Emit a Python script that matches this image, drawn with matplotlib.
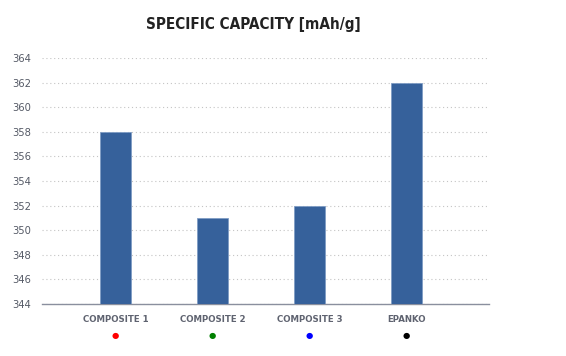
import matplotlib
matplotlib.use('Agg')
import matplotlib.pyplot as plt

# data
materials = ['COMPOSITE 1', 'COMPOSITE 2', 'COMPOSITE 3', 'EPANKO']
capacity = [358, 351, 352, 362]
marker_colors = ['#ff0000', '#008000', '#0000ff', '#000000']
y_ticks = [344, 346, 348, 350, 352, 354, 356, 358, 360, 362, 364]

fig = plt.figure(figsize=(5.66, 3.56), dpi=100)
ax = fig.add_axes([0.074, 0.146, 0.79, 0.691])

x = list(range(len(materials)))
ax.bar(x, capacity, width=0.32, color='#36619b', edgecolor='#7f9cc4',
       linewidth=0.6, zorder=3)

ax.set_ylim(344, 364)
ax.set_xlim(-0.76, 3.85)
ax.set_yticks(y_ticks)
ax.set_yticklabels([str(v) for v in y_ticks])
ax.yaxis.grid(True, linestyle=(0, (1, 2.5)), color='#c4c4c4', linewidth=0.8)
ax.set_axisbelow(True)

for s in ['top', 'right', 'left']:
    ax.spines[s].set_visible(False)
ax.spines['bottom'].set_color('#8a8f9e')
ax.spines['bottom'].set_linewidth(1.0)

ax.tick_params(axis='y', length=0, pad=8, labelsize=7.2, labelcolor='#555a66')
ax.set_xticks(x)
ax.set_xticklabels([''] * len(x))
ax.tick_params(axis='x', length=0)

# category names and colour dots under the axis
for i, name in enumerate(materials):
    ax.annotate(name, xy=(i, 344), xycoords='data', xytext=(0, -11.5),
                textcoords='offset points', ha='center', va='center',
                fontsize=6.2, fontweight='bold', color='#5f6370')
    ax.annotate('\u25cf', xy=(i, 344), xycoords='data', xytext=(0, -23),
                textcoords='offset points', ha='center', va='center',
                fontsize=6, color=marker_colors[i])

fig.text(0.447, 0.932, 'SPECIFIC CAPACITY [mAh/g]', ha='center',
         va='center', fontsize=11, fontweight='bold', fontstretch='condensed',
         color='#222222')

fig.savefig('out.png', dpi=100)
